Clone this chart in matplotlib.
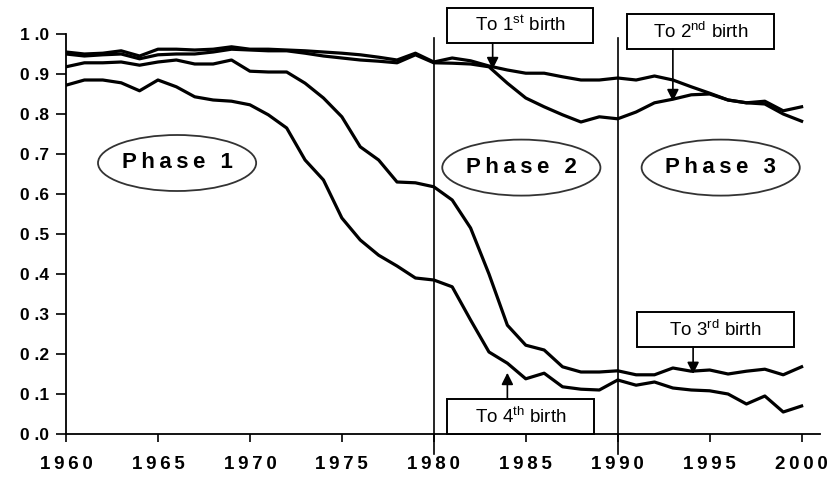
import matplotlib
matplotlib.use("Agg")
import matplotlib.pyplot as plt
from matplotlib.patches import Ellipse, Rectangle

plt.rcParams['font.family'] = ['Liberation Sans', 'DejaVu Sans']
plt.rcParams['mathtext.fontset'] = 'custom'
plt.rcParams['mathtext.rm'] = 'Liberation Sans'
plt.rcParams['mathtext.it'] = 'Liberation Sans'

years = list(range(1960, 2001))

to_1st = [0.955, 0.950, 0.952, 0.958, 0.945, 0.962, 0.962, 0.960, 0.962, 0.968,
          0.962, 0.962, 0.960, 0.958, 0.955, 0.952, 0.948, 0.942, 0.935, 0.952,
          0.930, 0.940, 0.933, 0.920, 0.910, 0.902, 0.902, 0.893, 0.885, 0.885,
          0.890, 0.885, 0.895, 0.885, 0.868, 0.852, 0.835, 0.828, 0.825, 0.800,
          0.782]
to_2nd = [0.950, 0.945, 0.948, 0.950, 0.938, 0.948, 0.950, 0.950, 0.955, 0.962,
          0.960, 0.958, 0.958, 0.952, 0.945, 0.940, 0.935, 0.932, 0.928, 0.948,
          0.928, 0.927, 0.925, 0.918, 0.877, 0.840, 0.818, 0.798, 0.780, 0.793,
          0.788, 0.805, 0.828, 0.837, 0.848, 0.850, 0.835, 0.828, 0.832, 0.808,
          0.818]
to_3rd = [0.918, 0.928, 0.928, 0.930, 0.922, 0.930, 0.935, 0.925, 0.925, 0.935,
          0.907, 0.905, 0.905, 0.877, 0.840, 0.793, 0.718, 0.685, 0.630, 0.628,
          0.618, 0.585, 0.515, 0.400, 0.272, 0.222, 0.210, 0.168, 0.155, 0.155,
          0.158, 0.148, 0.148, 0.165, 0.157, 0.160, 0.150, 0.157, 0.162, 0.148,
          0.168]
to_4th = [0.872, 0.885, 0.885, 0.878, 0.858, 0.885, 0.868, 0.843, 0.835, 0.832,
          0.823, 0.798, 0.765, 0.685, 0.635, 0.540, 0.485, 0.447, 0.420, 0.390,
          0.385, 0.368, 0.285, 0.205, 0.177, 0.138, 0.152, 0.118, 0.112, 0.110,
          0.135, 0.122, 0.130, 0.115, 0.110, 0.108, 0.100, 0.075, 0.095, 0.055,
          0.070]

x_ticks = [1960, 1965, 1970, 1975, 1980, 1985, 1990, 1995, 2000]
y_ticks = [0.0, 0.1, 0.2, 0.3, 0.4, 0.5, 0.6, 0.7, 0.8, 0.9, 1.0]
phase_breaks = [1980, 1990]
phase_labels = ["Phase 1", "Phase 2", "Phase 3"]
series_labels = ["1$^{\\rm st}$", "2$^{\\rm nd}$", "3$^{\\rm rd}$", "4$^{\\rm th}$"]

fig = plt.figure(figsize=(8.29, 4.83), dpi=100)
ax = fig.add_axes([66/829, 49/483, 754/829, 400/483])

for s in [to_1st, to_2nd, to_3rd, to_4th]:
    ax.plot(years, s, color='black', lw=2.3, solid_joinstyle='round')

ax.set_xlim(1960, 2001)
ax.set_ylim(0, 1.0)

for b in phase_breaks:
    ax.plot([b, b], [-0.05, 0.99], color='black', lw=1.2, clip_on=False)

ax.spines['top'].set_visible(False)
ax.spines['right'].set_visible(False)
ax.spines['left'].set_linewidth(1.3)
ax.spines['bottom'].set_linewidth(1.3)

thin = '\u2009'
ax.set_xticks(x_ticks)
ax.set_xticklabels([thin.join(str(v)) for v in x_ticks], fontsize=13.5, fontweight='bold')
ax.set_yticks(y_ticks)
ax.set_yticklabels([' .'.join(f"{v:.1f}".split('.')) for v in y_ticks], fontsize=12.5, fontweight='bold')
ax.tick_params(axis='y', direction='out', length=7, width=1.2, pad=5)
ax.tick_params(axis='x', direction='out', length=6, width=1.2, pad=10)

# phase ellipses
phase_pos = [(1966.04, 0.6775), (1984.76, 0.666), (1995.6, 0.666)]
for (cx, cy), lab in zip(phase_pos, phase_labels):
    ax.add_patch(Ellipse((cx, cy), 8.6, 0.14, facecolor='white', edgecolor='#333333', lw=1.3, zorder=3))
    ax.text(cx, cy, thin.join(lab), ha='center', va='center', fontsize=16, fontweight='bold', zorder=4)

# annotation boxes: (x0, x1, y0, y1, arrow_x, arrow_tip_y)
boxes = [
    (1980.73, 1988.68, 0.9775, 1.065, 1983.2, 0.912),
    (1990.53, 1998.48, 0.9625, 1.050, 1993.0, 0.832),
    (1991.07, 1999.56, 0.2175, 0.305, 1994.1, 0.150),
    (1980.73, 1988.73, 0.0,    0.0875, 1984.0, 0.153),
]
for (x0, x1, y0, y1, axx, tip), lab in zip(boxes, series_labels):
    ax.add_patch(Rectangle((x0, y0), x1 - x0, y1 - y0, facecolor='white', edgecolor='black',
                           lw=1.4, clip_on=False, zorder=5))
    ax.text((x0 + x1) / 2, (y0 + y1) / 2, f"To {lab} birth", ha='center', va='center',
            fontsize=13.5, zorder=6, clip_on=False)
    start = y0 if tip < y0 else y1
    ax.annotate('', xy=(axx, tip), xytext=(axx, start),
                arrowprops=dict(arrowstyle='-|>,head_length=0.7,head_width=0.35', color='black',
                                lw=1.2, shrinkA=0, shrinkB=0), zorder=6, annotation_clip=False)

fig.savefig('out.png', dpi=100)
